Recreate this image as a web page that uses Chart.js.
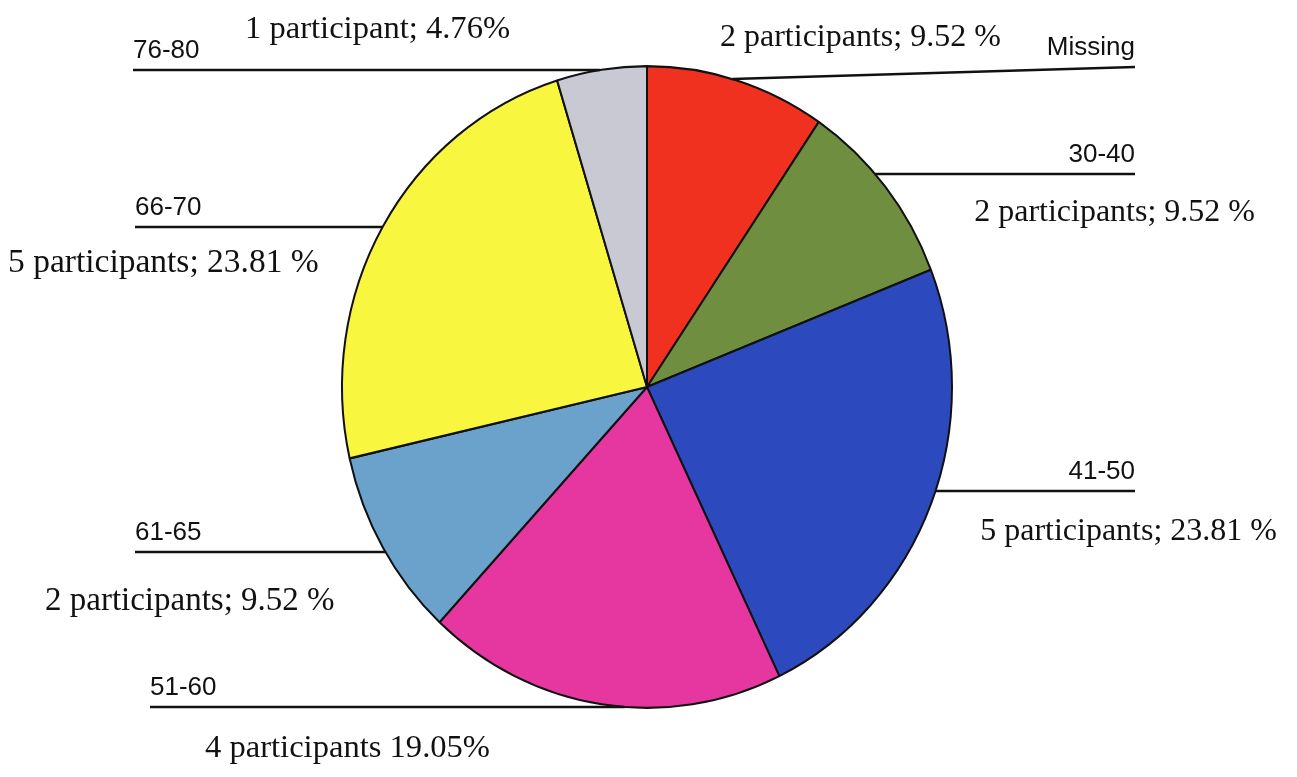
<!DOCTYPE html>
<html>
<head>
<meta charset="utf-8">
<title>Participants by age group</title>
<script src="https://cdn.jsdelivr.net/npm/chart.js@4.4.1/dist/chart.umd.min.js"></script>
<style>
  html, body { margin: 0; padding: 0; background: #fff; }
  #wrap { width: 1297px; height: 777px; }
</style>
</head>
<body>
<div id="wrap"><canvas id="pie"></canvas></div>
<script>
// age groups, clockwise from 12 o'clock
const groups = ["Missing", "30-40", "41-50", "51-60", "61-65", "66-70", "76-80"];
const participants = [2, 2, 5, 4, 2, 5, 1];
const valueLabels = [
  "2 participants; 9.52 %",
  "2 participants; 9.52 %",
  "5 participants; 23.81 %",
  "4 participants 19.05%",
  "2 participants; 9.52 %",
  "5 participants; 23.81 %",
  "1 participant; 4.76%"
];
const colors = ["#f0311f", "#6f8e3f", "#2c4abd", "#e6369f", "#6aa2cb", "#f9f640", "#c9c9d4"];

// where each leader line and its texts sit
const leaders = [
  { side: "right", lineY: 79, endX: 1135, endY: 67, textX: 720, textY: 46, align: "left", size: 32 },
  { side: "right", lineY: 174, endX: 1135, textX: 1255, textY: 221, align: "right", size: 32 },
  { side: "right", lineY: 491, endX: 1135, textX: 1277, textY: 540, align: "right", size: 32 },
  { side: "left", lineY: 707, endX: 150, textX: 205, textY: 757, align: "left", size: 32.6 },
  { side: "left", lineY: 552, endX: 135, textX: 45, textY: 610, align: "left", size: 33 },
  { side: "left", lineY: 227, endX: 135, textX: 8, textY: 272, align: "left", size: 33.5 },
  { side: "left", lineY: 70, endX: 133, textX: 245, textY: 38, align: "left", size: 32.6 }
];

// the pie is a bit taller than wide
const yStretch = 1.052;

const stretch = {
  id: "stretch",
  beforeDatasetsDraw(chart) {
    const arc = chart.getDatasetMeta(0).data[0];
    const ctx = chart.ctx;
    ctx.save();
    ctx.translate(arc.x, arc.y);
    ctx.scale(1, yStretch);
    ctx.translate(-arc.x, -arc.y);
  },
  afterDatasetsDraw(chart) {
    chart.ctx.restore();
  }
};

// leader lines, group names and counts
const labels = {
  id: "labels",
  afterDraw(chart) {
    const ctx = chart.ctx;
    const arcs = chart.getDatasetMeta(0).data;
    ctx.save();
    arcs.forEach((arc, i) => {
      const l = leaders[i];
      const rx = arc.outerRadius;
      const ry = rx * yStretch;
      let dy = (l.lineY - arc.y) / ry;
      dy = Math.max(-1, Math.min(1, dy));
      const dx = rx * Math.sqrt(1 - dy * dy);
      const innerX = l.side === "right" ? arc.x + dx : arc.x - dx;
      const endY = l.endY !== undefined ? l.endY : l.lineY;

      ctx.strokeStyle = "#111";
      ctx.lineWidth = 2.5;
      ctx.beginPath();
      ctx.moveTo(innerX, l.lineY);
      ctx.lineTo(l.endX, endY);
      ctx.stroke();

      ctx.fillStyle = "#111";
      ctx.textBaseline = "alphabetic";
      ctx.font = "26px 'Liberation Sans', Arial, sans-serif";
      ctx.textAlign = l.side === "right" ? "right" : "left";
      ctx.fillText(groups[i], l.endX, endY - 12);

      ctx.font = l.size + "px 'Liberation Serif', 'Times New Roman', serif";
      ctx.textAlign = l.align;
      ctx.fillText(valueLabels[i], l.textX, l.textY);
    });
    ctx.restore();
  }
};

new Chart(document.getElementById("pie"), {
  type: "pie",
  data: {
    labels: groups,
    datasets: [{
      data: participants,
      backgroundColor: colors,
      borderColor: "#111",
      borderWidth: 2,
      clip: false
    }]
  },
  options: {
    responsive: true,
    maintainAspectRatio: false,
    animation: false,
    rotation: 0,
    layout: { padding: { left: 341, right: 344, top: 81, bottom: 84 } },
    plugins: {
      legend: { display: false },
      tooltip: { enabled: false }
    }
  },
  plugins: [stretch, labels]
});
</script>
</body>
</html>
